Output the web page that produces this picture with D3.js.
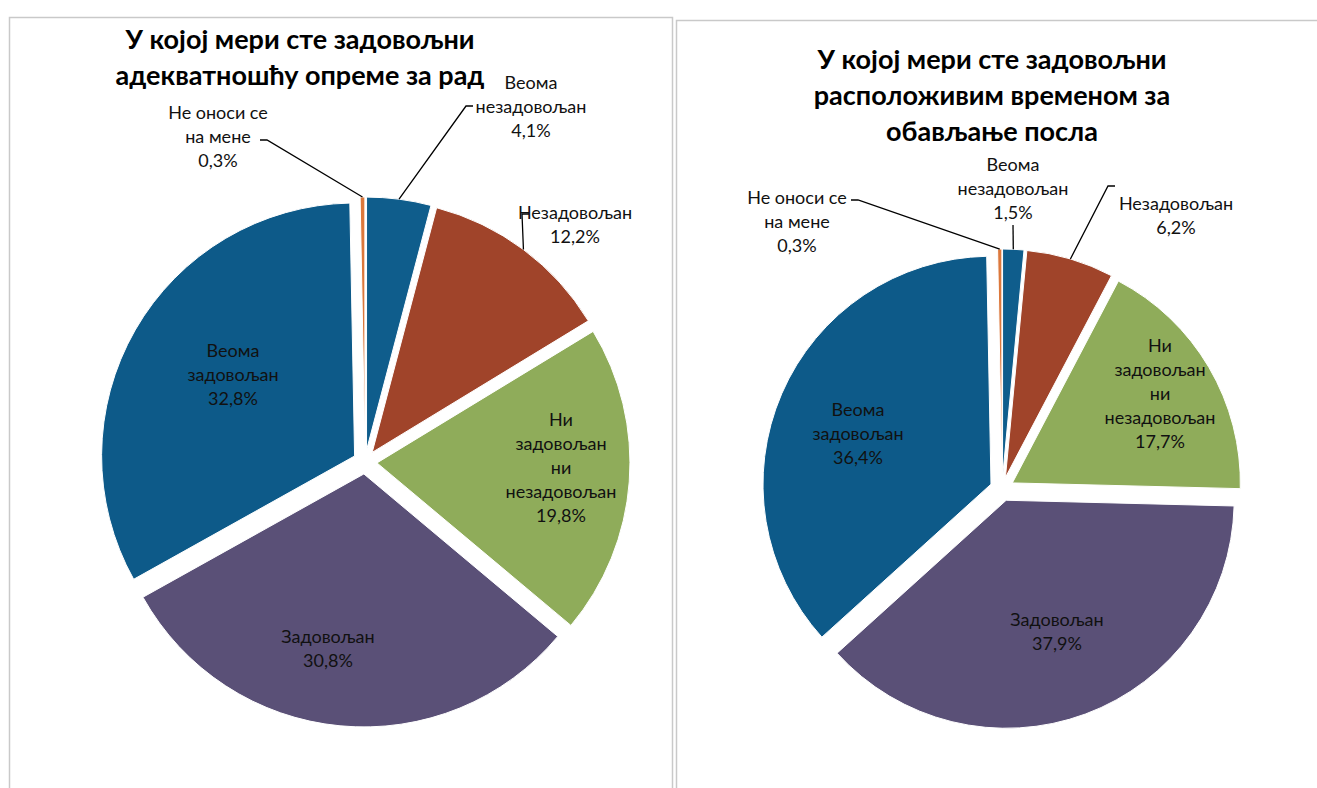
<!DOCTYPE html>
<html>
<head>
<meta charset="utf-8">
<script src="https://cdn.jsdelivr.net/npm/d3@7"></script>
<style>
  body { margin: 0; background: #fff; }
  text { font-family: Lato, "Open Sans", sans-serif; }
</style>
</head>
<body>
<div id="chart"></div>
<script>
// Categorie e valori delle due torte
var categories = ["Веома незадовољан", "Незадовољан", "Ни задовољан ни незадовољан", "Задовољан", "Веома задовољан", "Не оноси се на мене"];
var labelLines = [["Веома", "незадовољан"], ["Незадовољан"], ["Ни", "задовољан", "ни", "незадовољан"], ["Задовољан"], ["Веома", "задовољан"], ["Не оноси се", "на мене"]];
var equipmentValues = [4.1, 12.2, 19.8, 30.8, 32.8, 0.3];
var timeValues = [1.5, 6.2, 17.7, 37.9, 36.4, 0.3];
var equipmentTitle = ["У којој мери сте задовољни", "адекватношћу опреме за рад"];
var timeTitle = ["У којој мери сте задовољни", "расположивим временом за", "обављање посла"];
var colors = ["#0f5d8c", "#a0442a", "#8fac5a", "#5a5077", "#0d5a89", "#dc783c"];

var W = 1317, H = 788;

var svg = d3.select("#chart")
	.append("svg")
	.attr("width", W)
	.attr("height", H);

// cornici dei due grafici
svg.append("rect").attr("x", 9.5).attr("y", 17.5).attr("width", 663).attr("height", 800)
	.attr("fill", "none").attr("stroke", "#c9c9c9").attr("stroke-width", 1.5);
svg.append("rect").attr("x", 676.5).attr("y", 20.5).attr("width", 700).attr("height", 800)
	.attr("fill", "none").attr("stroke", "#c9c9c9").attr("stroke-width", 1.5);

var fmt = function(v) { return String(v.toFixed(1)).replace(".", ",") + "%"; };

// posizioni delle etichette rispetto al centro della torta (layout)
var charts = [
	{
		values: equipmentValues, title: equipmentTitle,
		cx: 365, cy: 462, r: 253, off: 12,
		titleX: 300, titleY: 40,
		labelPos: [[166, -355], [210, -237], [196, 6], [-37, 187], [-132, -87], [-147, -325]],
		leader: [[101, -356], [157, -248], null, null, null, [-98, -322]],
		leaderDir: [1, 1, 0, 0, 0, -1]
	},
	{
		values: timeValues, title: timeTitle,
		cx: 1002, cy: 489, r: 228, off: 12,
		titleX: 992, titleY: 60,
		labelPos: [[11, -300], [174, -273], [158, -95], [55, 143], [-144, -55], [-205, -267]],
		leader: [[11, -264], [106, -303], null, null, null, [-144, -289]],
		leaderDir: [0, 1, 0, 0, 0, -1]
	}
];

var lineH = 24;

charts.forEach(function(c) {
	var g = svg.append("g").attr("transform", "translate(" + c.cx + "," + c.cy + ")");

	var pie = d3.pie().sort(null).value(function(d) { return d; });
	var arcs = pie(c.values);
	var arc = d3.arc().innerRadius(0).outerRadius(c.r);

	// fette esplose
	g.selectAll("path")
		.data(arcs)
		.enter()
		.append("path")
		.attr("transform", function(d) {
			var a = (d.startAngle + d.endAngle) / 2;
			return "translate(" + (Math.sin(a) * c.off) + "," + (-Math.cos(a) * c.off) + ")";
		})
		.attr("d", arc)
		.attr("fill", function(d, i) { return colors[i]; })
		.attr("stroke", "#fff")
		.attr("stroke-width", 1);

	// linee guida
	arcs.forEach(function(d, i) {
		if (!c.leader[i]) return;
		var a = (d.startAngle + d.endAngle) / 2;
		var R = c.r + c.off;
		var end = [Math.sin(a) * R, -Math.cos(a) * R];
		var s = c.leader[i];
		var pts = [];
		if (c.leaderDir[i] !== 0) pts.push([s[0] + c.leaderDir[i] * 7, s[1]]);
		pts.push(s);
		pts.push(end);
		g.append("path")
			.attr("d", d3.line()(pts))
			.attr("fill", "none")
			.attr("stroke", "#000")
			.attr("stroke-width", 1.3);
	});

	// etichette
	arcs.forEach(function(d, i) {
		var lines = labelLines[i].concat([fmt(c.values[i])]);
		var p = c.labelPos[i];
		var t = g.append("text")
			.attr("text-anchor", "middle")
			.attr("font-size", "18px")
			.attr("fill", "#111");
		lines.forEach(function(l, k) {
			t.append("tspan")
				.attr("x", p[0])
				.attr("y", p[1] + (k - (lines.length - 1) / 2) * lineH)
				.attr("dy", "0.35em")
				.text(l);
		});
	});

	// titolo
	var tt = svg.append("text")
		.attr("text-anchor", "middle")
		.attr("font-size", "27px")
		.attr("font-weight", "bold")
		.attr("fill", "#000");
	c.title.forEach(function(l, k) {
		tt.append("tspan")
			.attr("x", c.titleX)
			.attr("y", c.titleY + k * 36)
			.attr("dy", "0.35em")
			.text(l);
	});
});
</script>
</body>
</html>
